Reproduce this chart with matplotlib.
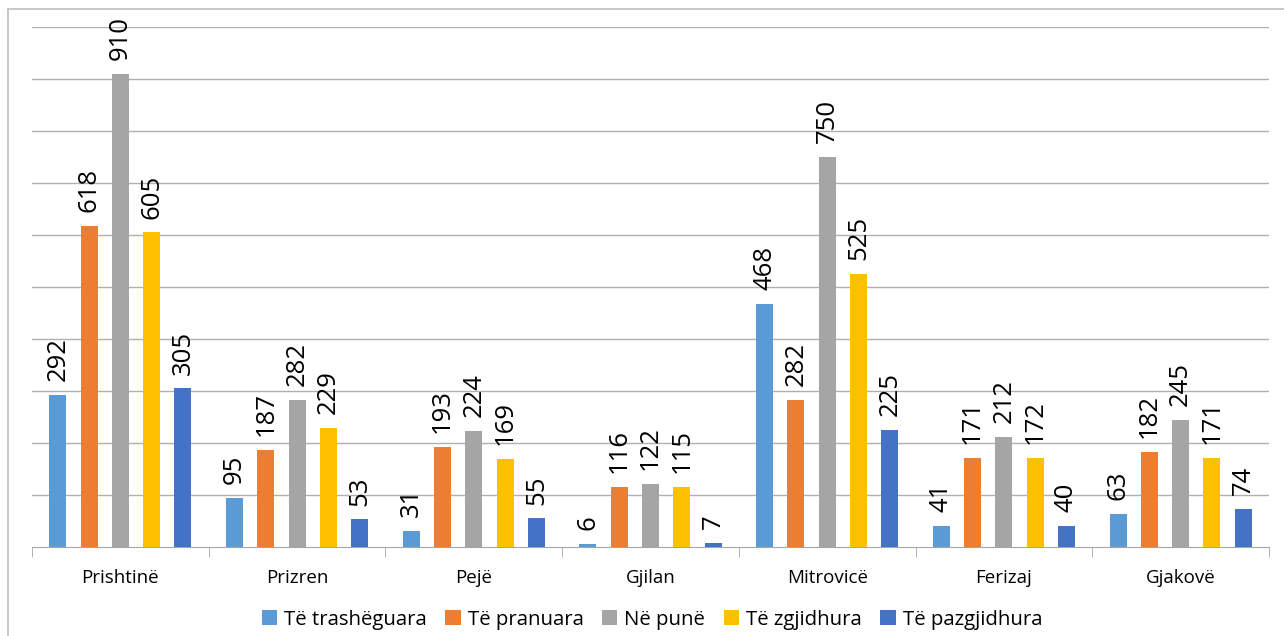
import matplotlib.pyplot as plt
import numpy as np
from matplotlib.lines import Line2D

# data
cities = ['Prishtinë', 'Prizren', 'Pejë', 'Gjilan', 'Mitrovicë', 'Ferizaj', 'Gjakovë']
series_names = ['Të trashëguara', 'Të pranuara', 'Në punë', 'Të zgjidhura', 'Të pazgjidhura']
trasheguara = [292, 95, 31, 6, 468, 41, 63]
pranuara = [618, 187, 193, 116, 282, 171, 182]
ne_pune = [910, 282, 224, 122, 750, 212, 245]
zgjidhura = [605, 229, 169, 115, 525, 172, 171]
pazgjidhura = [305, 53, 55, 7, 225, 40, 74]

colors = ['#5B9BD5', '#ED7D31', '#A5A5A5', '#FFC000', '#4472C4']

plt.rcParams['font.family'] = ['Open Sans', 'DejaVu Sans']

fig = plt.figure(figsize=(12.84, 6.36), dpi=100)
ax = fig.add_axes([32/1284, 1-547/636, (1269-32)/1284, (547-27)/636])

x = np.arange(len(cities))
width = 0.096
step = 0.177
all_series = [trasheguara, pranuara, ne_pune, zgjidhura, pazgjidhura]
for i, vals in enumerate(all_series):
    pos = x + (i - 2) * step
    bars = ax.bar(pos, vals, width, color=colors[i], label=series_names[i], zorder=3)
    for b, v in zip(bars, vals):
        ax.annotate(str(v), (b.get_x() + b.get_width()/2, v),
                    xytext=(0, 10), textcoords='offset points',
                    rotation=90, ha='center', va='bottom', fontsize=18.5)

ax.set_xlim(-0.5, len(cities) - 0.5)
ax.set_ylim(0, 1000)
ax.set_yticks(np.arange(100, 1001, 100))
ax.yaxis.grid(True, color='#b0b0b0', lw=1, zorder=0)
ax.tick_params(axis='y', left=False, labelleft=False)
for s in ['left', 'right', 'top']:
    ax.spines[s].set_visible(False)
ax.spines['bottom'].set_color('#a6a6a6')

ax.set_xticks(x)
ax.set_xticklabels(cities, fontsize=13.5)
ax.set_xticks(np.arange(-0.5, len(cities)), minor=True)
ax.tick_params(axis='x', which='major', length=0, pad=16)
ax.tick_params(axis='x', which='minor', length=7, color='#a6a6a6')

h, l = ax.get_legend_handles_labels()
fig.legend(h, l, loc='center', bbox_to_anchor=(652/1284, 1-620/636), ncol=5, frameon=False,
           fontsize=14.7, handlelength=0.75, handleheight=0.75, handletextpad=0.35,
           columnspacing=0.9, borderpad=0)

# outer chart border
fig.add_artist(Line2D([8/1284, 8/1284], [0, 1-9/636], color='#bfbfbf', lw=1.2))
fig.add_artist(Line2D([8/1284, 1], [1-9/636, 1-9/636], color='#bfbfbf', lw=1.2))

fig.savefig('out.png', dpi=100)
